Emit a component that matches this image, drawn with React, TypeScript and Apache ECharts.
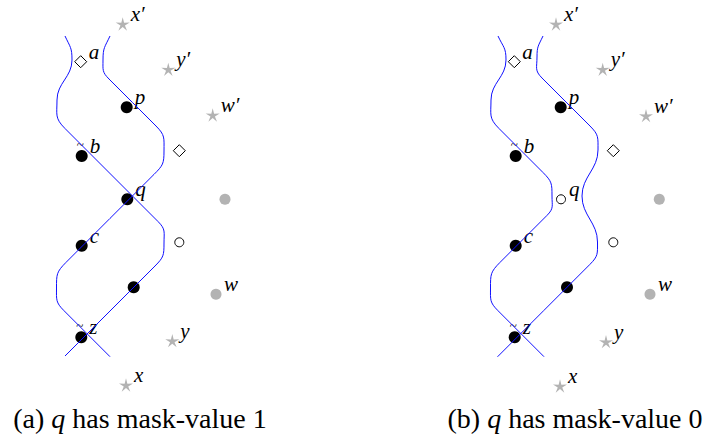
import React, { useEffect, useRef } from "react";
import * as echarts from "echarts";

// ---------- panel (a): q has mask-value 1 ----------
const filledA: [string, number, number][] = [
  ["p", 126.7, 107.3], ["b", 81.7, 156], ["q", 127.3, 199.3],
  ["c", 81.7, 245.7], ["", 133.7, 287.3], ["z", 81.3, 337.3],
];
const hollowA: [string, number, number][] = [["", 179.3, 242.3]];
const diamondA: [string, number, number][] = [["a", 80.7, 61.7], ["", 179.3, 150.7]];
const starA: [string, number, number][] = [
  ["x′", 122.7, 24], ["y′", 168.3, 69.3], ["w′", 212.7, 115],
  ["y", 172.3, 340.7], ["x", 126, 385],
];
const greyA: [string, number, number][] = [["", 225, 199.3], ["w", 216, 294.3]];

// ---------- panel (b): q has mask-value 0 ----------
const filledB: [string, number, number][] = [
  ["p", 560.7, 107.3], ["b", 515.7, 156], ["c", 515.7, 245.7],
  ["", 567, 287.3], ["z", 514.7, 337.3],
];
const hollowB: [string, number, number][] = [["q", 561, 199.3], ["", 613.3, 242.3]];
const diamondB: [string, number, number][] = [["a", 514.3, 61.7], ["", 613.3, 150.7]];
const starB: [string, number, number][] = [
  ["x′", 556, 24], ["y′", 602.7, 69.3], ["w′", 646, 115.7],
  ["y", 606, 341.7], ["x", 560, 386],
];
const greyB: [string, number, number][] = [["", 659.3, 199.3], ["w", 650, 294.3]];

// labels that carry a small tilde mark
const tilded = ["b", "z"];

// ---------- strands: knots [x, y, heading in degrees] ----------
const strandA1 = [
  [65, 36, 65], [72, 60, 90], [57, 100, 90], [65, 128.5, 45], [158, 221.5, 45],
  [164, 243, 90], [155, 266, 135], [65, 356, 135],
];
const strandA2 = [
  [110, 36, 115], [103, 60, 90], [109, 79, 45], [156, 126, 45], [164, 151, 90],
  [154, 174.4, 135], [66, 262.4, 135], [56.5, 288, 90], [64, 310.7, 45], [110, 356.7, 45],
];
const strandB1 = [
  [498, 36, 65], [506, 60, 90], [491, 100, 90], [499, 128.5, 45], [543, 172.5, 45],
  [552, 196, 90], [547, 215.4, 135], [500, 262.4, 135], [490.5, 288, 90],
  [498, 310.7, 45], [544, 356.7, 45],
];
const strandB2 = [
  [543, 36, 115], [537, 57, 90], [542, 78, 45], [590, 126, 45], [598, 150, 90],
  [582, 196, 90], [597.5, 242, 90], [590, 264.3, 135], [497.5, 356.8, 135],
];
const strands = [strandA1, strandA2, strandB1, strandB2];

const captionA = ["(a) ", "q", " has mask-value 1"];
const captionB = ["(b) ", "q", " has mask-value 0"];

const STAR =
  "path://M50 0 L59.4 37.06 L97.55 34.55 L65.22 54.94 L79.39 90.45 L50 66 L20.61 90.45 L34.78 54.94 L2.45 34.55 L40.6 37.06 Z";

const toItems = (arr: [string, number, number][]) =>
  arr.map(([name, x, y]) => ({ name, value: [x, y] }));

const labelStyle = {
  show: true,
  formatter: (p: any) =>
    p.name ? `{t|${tilded.includes(p.name) ? "~" : " "}}{l|${p.name}}` : "",
  position: "inside",
  align: "left",
  verticalAlign: "middle",
  offset: [-5, -10],
  rich: {
    t: {
      width: 13,
      fontFamily: "Liberation Serif",
      fontSize: 13,
      color: "#000",
      padding: [0, 0, 4, 0],
    },
    l: {
      fontFamily: "Liberation Serif",
      fontStyle: "italic",
      fontSize: 21,
      color: "#000",
    },
  },
};

const fmt = (v: number) => v.toFixed(2);

export default function App() {
  const ref = useRef<HTMLDivElement>(null);
  useEffect(() => {
    if (!ref.current) return;
    const chart = echarts.init(ref.current, undefined, { renderer: "svg" });
    const rich = {
      n: { fontFamily: "Liberation Serif", fontSize: 28, fill: "#000" },
      i: { fontFamily: "Liberation Serif", fontSize: 28, fontStyle: "italic", fill: "#000" },
    };
    const cap = (c: string[]) => `{n|${c[0]}}{i|${c[1]}}{n|${c[2]}}`;
    const strandSeries = strands.map((knots, si) => ({
      type: "custom",
      id: "strand" + si,
      coordinateSystem: "cartesian2d",
      silent: true,
      z: 5,
      data: [[knots[0][0], knots[0][1]]],
      encode: { x: 0, y: 1 },
      renderItem: (_params: any, api: any) => {
        let d = "";
        for (let i = 0; i < knots.length; i++) {
          const p1 = api.coord([knots[i][0], knots[i][1]]);
          if (i === 0) {
            d += `M${fmt(p1[0])} ${fmt(p1[1])}`;
            continue;
          }
          const p0 = api.coord([knots[i - 1][0], knots[i - 1][1]]);
          const h0 = knots[i - 1][2];
          const h1 = knots[i][2];
          const f = h0 === h1 ? (h0 === 90 ? 0.4 : 0.33) : 0.5;
          const L = Math.hypot(p1[0] - p0[0], p1[1] - p0[1]) * f;
          const a0 = (h0 * Math.PI) / 180;
          const a1 = (h1 * Math.PI) / 180;
          d +=
            ` C${fmt(p0[0] + Math.cos(a0) * L)} ${fmt(p0[1] + Math.sin(a0) * L)}` +
            ` ${fmt(p1[0] - Math.cos(a1) * L)} ${fmt(p1[1] - Math.sin(a1) * L)}` +
            ` ${fmt(p1[0])} ${fmt(p1[1])}`;
        }
        return {
          type: "path",
          shape: { pathData: d },
          style: { stroke: "#1010ff", fill: "none", lineWidth: 1 },
        };
      },
    }));
    chart.setOption({
      animation: false,
      backgroundColor: "#ffffff",
      grid: { left: 0, right: 0, top: 0, bottom: 0 },
      xAxis: { type: "value", min: 0, max: 709, show: false },
      yAxis: { type: "value", min: 0, max: 439, inverse: true, show: false },
      graphic: [
        {
          type: "text",
          x: 140,
          y: 418,
          style: { text: cap(captionA), rich, align: "center", verticalAlign: "middle" },
        },
        {
          type: "text",
          x: 575,
          y: 418,
          style: { text: cap(captionB), rich, align: "center", verticalAlign: "middle" },
        },
      ],
      series: [
        ...strandSeries,
        {
          type: "scatter",
          symbol: "circle",
          symbolSize: 12,
          itemStyle: { color: "#000", opacity: 1 },
          label: labelStyle,
          data: toItems([...filledA, ...filledB]),
          z: 2,
        },
        {
          type: "scatter",
          symbol: "circle",
          symbolSize: 9,
          itemStyle: { color: "#fff", borderColor: "#000", borderWidth: 1, opacity: 1 },
          label: labelStyle,
          data: toItems([...hollowA, ...hollowB]),
          z: 2,
        },
        {
          type: "scatter",
          symbol: "diamond",
          symbolSize: 12,
          itemStyle: { color: "#fff", borderColor: "#000", borderWidth: 1, opacity: 1 },
          label: labelStyle,
          data: toItems([...diamondA, ...diamondB]),
          z: 2,
        },
        {
          type: "scatter",
          symbol: STAR,
          symbolKeepAspect: true,
          symbolSize: 14,
          itemStyle: { color: "#b3b3b3", opacity: 1 },
          label: labelStyle,
          data: toItems([...starA, ...starB]),
          z: 2,
        },
        {
          type: "scatter",
          symbol: "circle",
          symbolSize: 11,
          itemStyle: { color: "#b3b3b3", opacity: 1 },
          label: labelStyle,
          data: toItems([...greyA, ...greyB]),
          z: 2,
        },
      ],
    });
    return () => chart.dispose();
  }, []);
  return (
    <div
      ref={ref}
      style={{ position: "fixed", left: 0, top: 0, width: 709, height: 439 }}
    />
  );
}
